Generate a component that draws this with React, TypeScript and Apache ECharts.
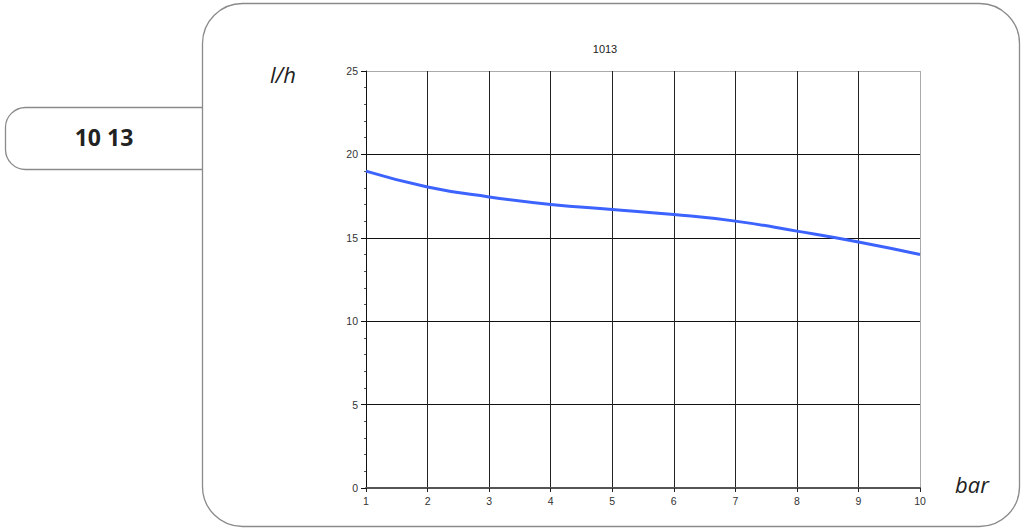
import React, { useEffect, useRef } from "react";
import * as echarts from "echarts";

const title = "1013";
const boxLabel = "10 13";
const yName = "l/h";
const xName = "bar";
const pressure = [1, 2, 3, 4, 5, 6, 7, 8, 9, 10];
const flow = [19.0, 18.05, 17.45, 17.0, 16.7, 16.4, 16.0, 15.4, 14.75, 14.0];

export default function App() {
  const ref = useRef<HTMLDivElement>(null);
  useEffect(() => {
    if (!ref.current) return;
    const chart = echarts.init(ref.current, null, { renderer: "svg" });
    const labelStyle = { color: "#333", fontSize: 10.5, fontFamily: "Liberation Sans, Arial, sans-serif" };
    chart.setOption({
      animation: false,
      backgroundColor: "#fff",
      title: {
        text: title,
        left: 600,
        top: 38,
        textAlign: "center",
        textStyle: { fontSize: 11, fontWeight: "normal", color: "#222", fontFamily: "Liberation Sans, Arial, sans-serif" },
      },
      graphic: [
        {
          type: "rect",
          shape: { x: 5.5, y: 107.5, width: 240, height: 62, r: 20 },
          style: { fill: "#fff", stroke: "#8a8a8a", lineWidth: 1.3 },
          z: 0,
        },
        {
          type: "rect",
          shape: { x: 202.5, y: 3.5, width: 817, height: 523, r: 40 },
          style: { fill: "#fff", stroke: "#8a8a8a", lineWidth: 1.3 },
          z: 1,
        },
        {
          type: "text",
          x: 104,
          y: 137,
          style: {
            text: boxLabel,
            fontSize: 23,
            fontWeight: "bold",
            fontFamily: "Open Sans, Noto Sans, sans-serif",
            fill: "#222",
            align: "center",
            verticalAlign: "middle",
          },
          z: 2,
        },
        {
          type: "text",
          x: 283,
          y: 74,
          style: {
            text: yName,
            fontSize: 22,
            fontStyle: "italic",
            fontFamily: "Open Sans, Noto Sans, sans-serif",
            fill: "#222",
            align: "center",
            verticalAlign: "middle",
          },
          z: 2,
        },
        {
          type: "text",
          x: 972,
          y: 484,
          style: {
            text: xName,
            fontSize: 22,
            fontStyle: "italic",
            fontFamily: "Open Sans, Noto Sans, sans-serif",
            fill: "#222",
            align: "center",
            verticalAlign: "middle",
          },
          z: 2,
        },
      ],
      grid: { left: 366, right: 107, top: 71, bottom: 42, containLabel: false, z: 3 },
      xAxis: {
        type: "value",
        min: 1,
        max: 10,
        interval: 1,
        z: 3,
        axisLine: { show: true, lineStyle: { color: "#555", width: 2 } },
        axisTick: { show: true, length: 4, lineStyle: { color: "#222" } },
        axisLabel: { ...labelStyle, margin: 7 },
        splitLine: { show: true, lineStyle: { color: ["#222", "#222", "#222", "#222", "#222", "#222", "#222", "#222", "#222", "#aaa"], width: 1 } },
      },
      yAxis: {
        type: "value",
        min: 0,
        max: 25,
        interval: 5,
        z: 3,
        axisLine: { show: true, lineStyle: { color: "#111", width: 1 } },
        axisTick: { show: true, length: 5, lineStyle: { color: "#111" } },
        minorTick: { show: true, splitNumber: 5, length: 2, lineStyle: { color: "#555" } },
        axisLabel: { ...labelStyle, margin: 8 },
        splitLine: { show: true, lineStyle: { color: ["#111", "#111", "#111", "#111", "#111", "#aaa"], width: 1 } },
      },
      series: [
        {
          type: "line",
          z: 4,
          data: pressure.map((p, i) => [p, flow[i]]),
          smooth: 0.5,
          symbol: "none",
          lineStyle: { color: "#3d63ff", width: 3 },
        },
      ],
    });
    return () => chart.dispose();
  }, []);
  return (
    <div
      ref={ref}
      style={{ position: "fixed", left: 0, top: 0, width: 1027, height: 530 }}
    />
  );
}
